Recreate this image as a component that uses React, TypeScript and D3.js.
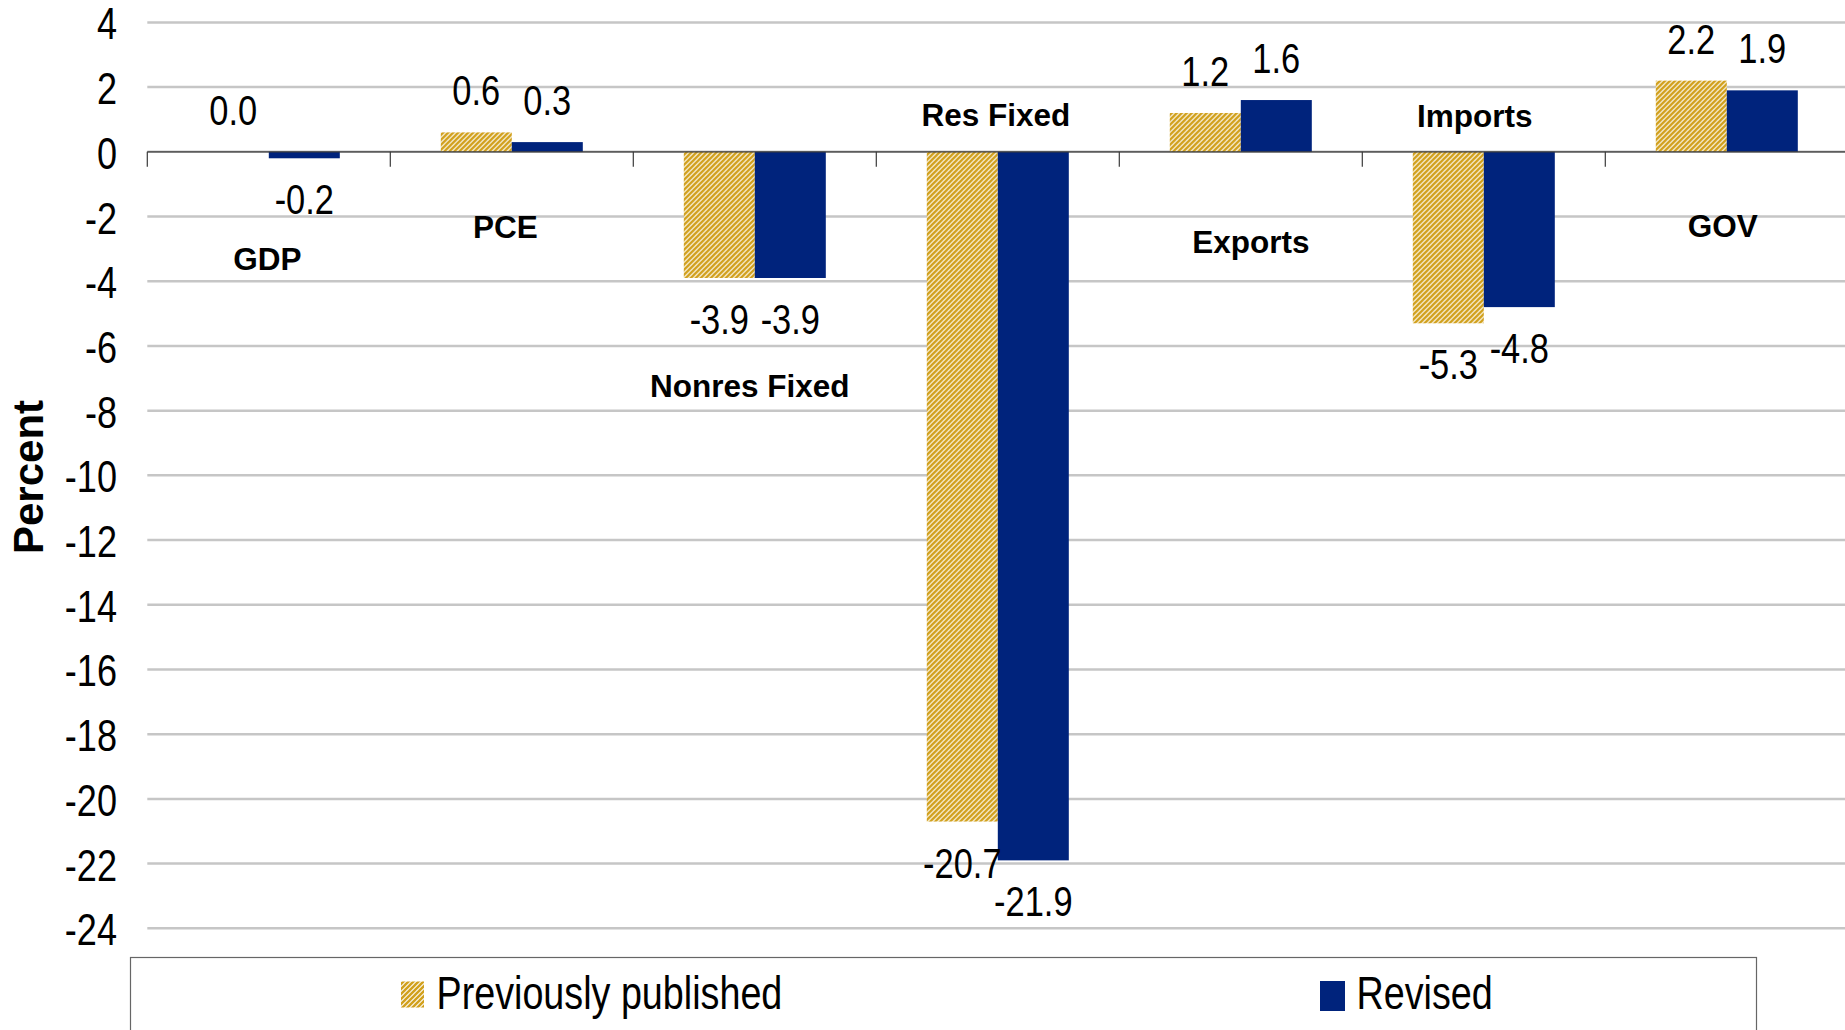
import React from 'react';
import * as d3 from 'd3';

const categories = ['GDP', 'PCE', 'Nonres Fixed', 'Res Fixed', 'Exports', 'Imports', 'GOV'];
const previouslyPublished = [0.0, 0.6, -3.9, -20.7, 1.2, -5.3, 2.2];
const revised = [-0.2, 0.3, -3.9, -21.9, 1.6, -4.8, 1.9];
const seriesNames = ['Previously published', 'Revised'];
const yTicks = [4, 2, 0, -2, -4, -6, -8, -10, -12, -14, -16, -18, -20, -22, -24];
// where each category name sits, in axis units (as placed in the original)
const categoryLabelAt = [-3.66, -2.66, -7.57, 0.8, -3.13, 0.77, -2.62];
const categoryLabelShift = [-1.5, -6.5, -5, -2, 10, -9, -4];

const W = 1845;
const H = 1030;
const NAVY = '#00237c';
const GOLD = '#d1a01c';
const SANS = '"Liberation Sans", Arial, sans-serif';

// no narrow face installed, so squeeze the regular one
const Narrow = ({ x, y, size, anchor = 'start', children }) => (
  <g transform={`translate(${x},${y}) scale(0.82,1)`}>
    <text textAnchor={anchor} fontFamily={SANS} fontSize={size} fill="#000">
      {children}
    </text>
  </g>
);

const App = () => {
  const left = 147.3;
  const step = 243;
  const y = d3.scaleLinear().domain([-24, 4]).range([928.3, 22.4]);
  const x = d3
    .scaleBand()
    .domain(categories)
    .range([left, left + step * categories.length])
    .paddingInner(0.4156)
    .paddingOuter(0.2078);
  const xs = d3.scaleBand().domain(seriesNames).range([0, x.bandwidth()]);
  const y0 = y(0);

  const rows = categories.map((c, i) => ({
    cat: c,
    vals: [previouslyPublished[i], revised[i]],
  }));

  return (
    <div style={{ position: 'absolute', left: 0, top: 0 }}>
      <svg width={W} height={H} style={{ display: 'block', background: '#fff' }}>
        <defs>
          <pattern id="hatch" width="5" height="5" patternUnits="userSpaceOnUse">
            <rect width="5" height="5" fill="#fbf6e8" />
            <path d="M-1,1 l2,-2 M0,5 l5,-5 M4,6 l2,-2" stroke={GOLD} strokeWidth="2.3" />
          </pattern>
        </defs>

        {/* gridlines */}
        {yTicks.map((t) => (
          <line key={t} x1={left} x2={W} y1={y(t)} y2={y(t)} stroke="#c6c6c6" strokeWidth="2.5" />
        ))}

        {/* y tick labels */}
        {yTicks.map((t) => (
          <Narrow key={'l' + t} x={117} y={y(t) + 17} size={44} anchor="end">
            {t}
          </Narrow>
        ))}

        {/* bars */}
        {rows.map((r) => (
          <g key={r.cat} transform={`translate(${x(r.cat)},0)`}>
            {r.vals.map((v, j) => (
              <rect
                key={j}
                x={xs(seriesNames[j])}
                width={xs.bandwidth()}
                y={Math.min(y(v), y0)}
                height={Math.abs(y(v) - y0)}
                fill={j === 0 ? 'url(#hatch)' : NAVY}
              />
            ))}
          </g>
        ))}

        {/* category axis */}
        <line x1={left} x2={W} y1={y0} y2={y0} stroke="#3a3a3a" strokeWidth="1.2" />
        {d3.range(categories.length + 1).map((k) => (
          <line
            key={'t' + k}
            x1={left + k * step}
            x2={left + k * step}
            y1={y0}
            y2={y0 + 15}
            stroke="#3a3a3a"
            strokeWidth="1.2"
          />
        ))}

        {/* value labels */}
        {rows.map((r) =>
          r.vals.map((v, j) => {
            const cx = (x(r.cat) as number) + (xs(seriesNames[j]) as number) + xs.bandwidth() / 2;
            const ty = v >= 0 ? y(v) - 27 : y(v) + 56;
            return (
              <Narrow key={r.cat + j} x={cx} y={ty} size={42} anchor="middle">
                {v.toFixed(1)}
              </Narrow>
            );
          })
        )}

        {/* category names */}
        {categories.map((c, i) => (
          <text
            key={'c' + c}
            x={(x(c) as number) + x.bandwidth() / 2 + categoryLabelShift[i]}
            y={y(categoryLabelAt[i])}
            textAnchor="middle"
            fontFamily={SANS}
            fontWeight="bold"
            fontSize="31.5"
            fill="#000"
          >
            {c}
          </text>
        ))}

        {/* y axis title */}
        <text
          transform="translate(43,477) rotate(-90)"
          textAnchor="middle"
          fontFamily={SANS}
          fontWeight="bold"
          fontSize="42"
          fill="#000"
        >
          Percent
        </text>

        {/* legend */}
        <rect x={130.5} y={957.5} width={1626} height={100} fill="#fff" stroke="#666" strokeWidth="1.2" />
        <rect x={401} y={981.5} width={23} height={26} fill="url(#hatch)" />
        <Narrow x={436.5} y={1009} size={46}>
          {seriesNames[0]}
        </Narrow>
        <rect x={1320} y={981} width={25} height={30} fill={NAVY} />
        <Narrow x={1356.5} y={1009} size={46}>
          {seriesNames[1]}
        </Narrow>
      </svg>
    </div>
  );
};

export default App;
